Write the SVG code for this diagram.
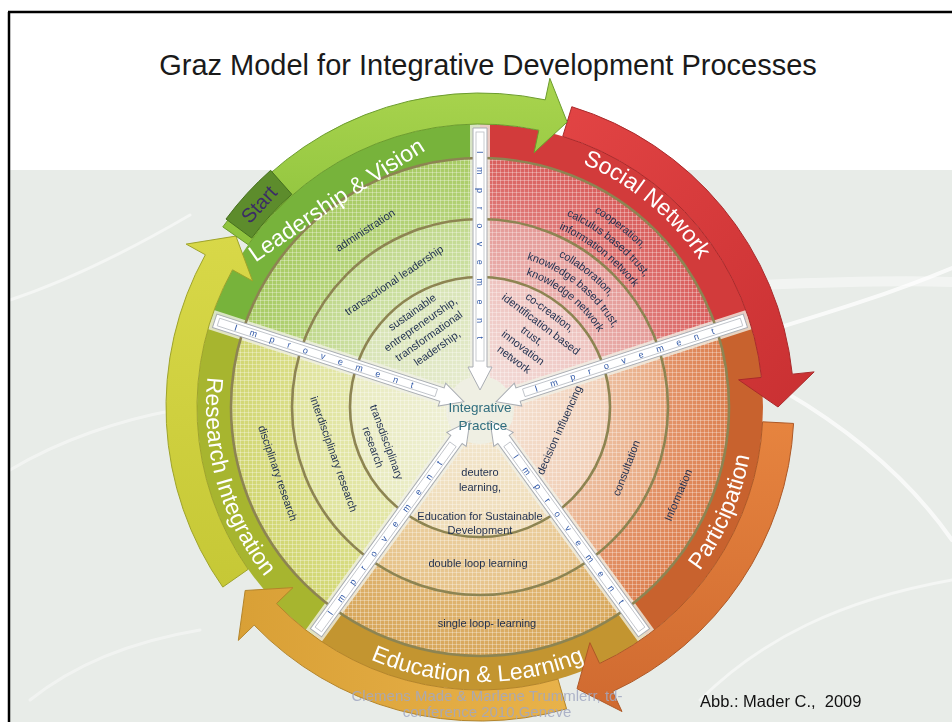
<svg xmlns="http://www.w3.org/2000/svg" xmlns:xlink="http://www.w3.org/1999/xlink" width="952" height="722" viewBox="0 0 952 722">
<style>
text{font-family:"Liberation Sans",Arial,sans-serif}
.in{fill:#1f2f4f;font-size:11px}
.lbl{fill:#ffffff;font-size:23px}
.imp{fill:#2f57a6;font-size:9px}
.circ{fill:none;stroke:#8d8452;stroke-width:2.6}
.arw{stroke-width:1;stroke-linejoin:round}
</style>
<defs>
<pattern id="grid" width="4" height="4" patternUnits="userSpaceOnUse"><path d="M0,0.5H4M0.5,0V4" stroke="#ffffff" stroke-opacity="0.3" stroke-width="1"/></pattern>
<radialGradient id="gG" gradientUnits="userSpaceOnUse" cx="480" cy="407" r="249"><stop offset="0" stop-color="#e9ecd4"/><stop offset=".52" stop-color="#d8e4b6"/><stop offset=".525" stop-color="#cde0a4"/><stop offset=".755" stop-color="#c0d88c"/><stop offset=".76" stop-color="#b4d278"/><stop offset="1" stop-color="#a8cb64"/></radialGradient>
<radialGradient id="gR" gradientUnits="userSpaceOnUse" cx="480" cy="407" r="249"><stop offset="0" stop-color="#f3e0dc"/><stop offset=".52" stop-color="#eec3bf"/><stop offset=".525" stop-color="#e9aeab"/><stop offset=".755" stop-color="#e49a97"/><stop offset=".76" stop-color="#df7a78"/><stop offset="1" stop-color="#d95e5c"/></radialGradient>
<radialGradient id="gO" gradientUnits="userSpaceOnUse" cx="480" cy="407" r="249"><stop offset="0" stop-color="#f4e4d6"/><stop offset=".52" stop-color="#f1cfb7"/><stop offset=".525" stop-color="#ecbc9c"/><stop offset=".755" stop-color="#e8a880"/><stop offset=".76" stop-color="#e39368"/><stop offset="1" stop-color="#dc8050"/></radialGradient>
<radialGradient id="gY" gradientUnits="userSpaceOnUse" cx="480" cy="407" r="249"><stop offset="0" stop-color="#f3e8d2"/><stop offset=".52" stop-color="#efdcb8"/><stop offset=".525" stop-color="#eacd9c"/><stop offset=".755" stop-color="#e6c288"/><stop offset=".76" stop-color="#dfb470"/><stop offset="1" stop-color="#d7a65a"/></radialGradient>
<radialGradient id="gL" gradientUnits="userSpaceOnUse" cx="480" cy="407" r="249"><stop offset="0" stop-color="#f0f0da"/><stop offset=".52" stop-color="#e9ebc0"/><stop offset=".525" stop-color="#e3e6a8"/><stop offset=".755" stop-color="#dfe39c"/><stop offset=".76" stop-color="#d9dd86"/><stop offset="1" stop-color="#d1d672"/></radialGradient>
<linearGradient id="aG" x1="0" y1="0" x2="0" y2="1"><stop offset="0" stop-color="#a9d44e"/><stop offset="1" stop-color="#8dc23c"/></linearGradient>
<linearGradient id="aR" x1="0" y1="0" x2="1" y2="1"><stop offset="0" stop-color="#e24444"/><stop offset="1" stop-color="#c93032"/></linearGradient>
<linearGradient id="aO" x1="0" y1="0" x2="0" y2="1"><stop offset="0" stop-color="#e6843f"/><stop offset="1" stop-color="#d06a30"/></linearGradient>
<linearGradient id="aY" x1="1" y1="0" x2="0" y2="0"><stop offset="0" stop-color="#e8b24a"/><stop offset="1" stop-color="#d9a036"/></linearGradient>
<linearGradient id="aL" x1="0" y1="1" x2="0" y2="0"><stop offset="0" stop-color="#c6c836"/><stop offset="1" stop-color="#d8d848"/></linearGradient>
<path id="cw264" d="M480,671 A264,264 0 0 1 480,143 A264,264 0 0 1 480,671"/>
<path id="ccw274" d="M480,133 A274,274 0 0 0 480,681 A274,274 0 0 0 480,133"/>
<path id="ccw275" d="M480,132 A275,275 0 0 0 480,682 A275,275 0 0 0 480,132"/>
<path id="cw226" d="M480,633 A226,226 0 0 1 480,181 A226,226 0 0 1 480,633"/>
<path id="cw210" d="M480,617 A210,210 0 0 1 480,197 A210,210 0 0 1 480,617"/>
<path id="cw195" d="M480,602 A195,195 0 0 1 480,212 A195,195 0 0 1 480,602"/>
<path id="cw170" d="M480,577 A170,170 0 0 1 480,237 A170,170 0 0 1 480,577"/>
<path id="cw155" d="M480,562 A155,155 0 0 1 480,252 A155,155 0 0 1 480,562"/>
<path id="cw140" d="M480,547 A140,140 0 0 1 480,267 A140,140 0 0 1 480,547"/>
<path id="lvPath" d="M252,265 Q338,205 430,148"/>
<g id="impShape">
<path d="M279,-7H40V-12L17,0L40,12V7H279Z" fill="#ffffff" stroke="#a9adb3" stroke-width="1"/>
<rect x="46" y="-4" width="229" height="8" fill="none" stroke="#b9bdc4" stroke-width="0.8"/>
</g>
</defs>

<!-- background -->
<rect x="0" y="0" width="952" height="722" fill="#ffffff"/>
<rect x="10" y="170" width="942" height="552" fill="#e8ece8"/>
<g fill="none" stroke="#ffffff" stroke-linecap="round">
<path d="M745,338 C810,318 880,298 952,268" stroke-width="4" opacity=".75"/>
<path d="M785,392 C850,430 910,480 952,540" stroke-width="4" opacity=".7"/>
<path d="M760,285 C830,282 900,280 952,282" stroke-width="10" opacity=".45"/>
<path d="M10,300 C70,280 130,250 190,215" stroke-width="3" opacity=".5"/>
<path d="M10,470 C60,440 120,420 175,410" stroke-width="3" opacity=".45"/>
<path d="M700,700 C760,640 840,600 952,580" stroke-width="3" opacity=".5"/>
<path d="M30,700 C80,660 140,640 200,630" stroke-width="3" opacity=".4"/>
</g>
<!-- frame -->
<path d="M8,12H952M9,12V722" stroke="#000000" stroke-width="2.5" fill="none"/>

<!-- title -->
<g id="title"><text x="488" y="75" text-anchor="middle" font-size="29" fill="#1a1a1a">Graz Model for Integrative Development Processes</text></g>

<!-- sectors -->
<g id="sector-leadership">
<path d="M480,407 L210.85,319.55 A283,283 0 0 1 480,124 Z" fill="#77b33b"/>
<path d="M480,407 L243.19,330.05 A249,249 0 0 1 480,158 Z" fill="url(#gG)"/>
</g>
<g id="sector-social">
<path d="M480,407 L480,124 A283,283 0 0 1 749.15,319.55 Z" fill="#d23b3b"/>
<path d="M480,407 L480,158 A249,249 0 0 1 716.81,330.05 Z" fill="url(#gR)"/>
</g>
<g id="sector-participation">
<path d="M480,407 L749.15,319.55 A283,283 0 0 1 646.34,635.95 Z" fill="#c8622e"/>
<path d="M480,407 L716.81,330.05 A249,249 0 0 1 626.36,608.44 Z" fill="url(#gO)"/>
</g>
<g id="sector-education">
<path d="M480,407 L646.34,635.95 A283,283 0 0 1 313.66,635.95 Z" fill="#c39530"/>
<path d="M480,407 L626.36,608.44 A249,249 0 0 1 333.64,608.44 Z" fill="url(#gY)"/>
</g>
<g id="sector-research">
<path d="M480,407 L313.66,635.95 A283,283 0 0 1 210.85,319.55 Z" fill="#a7b52f"/>
<path d="M480,407 L333.64,608.44 A249,249 0 0 1 243.19,330.05 Z" fill="url(#gL)"/>
</g>
<circle cx="480" cy="407" r="249" fill="url(#grid)"/>

<!-- pale gaps -->
<g fill="#f1f1e6" opacity=".8">
<rect x="0" y="-10" width="283" height="20" transform="translate(480,407) rotate(-90)"/>
<rect x="0" y="-10" width="283" height="20" transform="translate(480,407) rotate(-18)"/>
<rect x="0" y="-10" width="283" height="20" transform="translate(480,407) rotate(54)"/>
<rect x="0" y="-10" width="283" height="20" transform="translate(480,407) rotate(126)"/>
<rect x="0" y="-10" width="283" height="20" transform="translate(480,407) rotate(198)"/>
</g>
<circle cx="480" cy="410" r="34" fill="#efefe3"/>

<!-- rings -->
<g id="rings">
<circle class="circ" cx="480" cy="407" r="130"/>
<circle class="circ" cx="480" cy="407" r="188"/>
<circle class="circ" cx="480" cy="407" r="249"/>
</g>

<!-- improvement arrows -->
<g id="connectors">
<g transform="translate(480,407) rotate(-90)"><use href="#impShape"/><text class="imp" transform="rotate(180)" x="-256" y="3" textLength="188" lengthAdjust="spacing">Improvement</text></g>
<g transform="translate(480,407) rotate(-18)"><use href="#impShape"/><text class="imp" x="58" y="3" textLength="188" lengthAdjust="spacing">Improvement</text></g>
<g transform="translate(480,407) rotate(54)"><use href="#impShape"/><text class="imp" x="60" y="3" textLength="182" lengthAdjust="spacing">Improvement</text></g>
<g transform="translate(480,407) rotate(126)"><use href="#impShape"/><text class="imp" transform="rotate(180)" x="-256" y="3" textLength="188" lengthAdjust="spacing">Improvement</text></g>
<g transform="translate(480,407) rotate(198)"><use href="#impShape"/><text class="imp" transform="rotate(180)" x="-258" y="3" textLength="188" lengthAdjust="spacing">Improvement</text></g>
</g>

<!-- cycle arrows -->
<g id="cycle-arrows">
<path class="arw" fill="url(#aR)" stroke="#a92a2b" d="M571.80,106.72 A314,314 0 0 1 792.28,374.18 L814.16,371.88 L778,407 L738.58,379.82 L761.45,377.42 A283,283 0 0 0 562.74,136.37 Z"/>
<path class="arw" fill="url(#aO)" stroke="#ad5826" d="M793.57,423.43 A314,314 0 0 1 612.70,691.58 L622.00,711.52 L577.02,688.76 L589.88,642.64 L599.60,663.49 A283,283 0 0 0 762.61,421.81 Z"/>
<path class="arw" fill="url(#aY)" stroke="#b3842a" d="M566.55,708.84 A314,314 0 0 1 254.13,625.12 L238.30,640.41 L245.17,590.47 L292.97,587.61 L276.43,603.59 A283,283 0 0 0 558.01,679.04 Z"/>
<path class="arw" fill="url(#aL)" stroke="#9ea32a" d="M222.79,587.10 A314,314 0 0 1 205.37,254.77 L186.13,244.10 L235.89,236.07 L252.60,280.95 L232.48,269.80 A283,283 0 0 0 248.18,569.32 Z"/>
<path class="arw" fill="url(#aG)" stroke="#6c9c2e" d="M222.79,226.90 A314,314 0 0 1 545.28,99.86 L549.86,78.34 L567.13,122.02 L534.06,152.68 L538.84,130.18 A283,283 0 0 0 248.18,244.68 Z"/>
<g id="start">
<path d="M225.98,219.04 A316,316 0 0 1 270.61,170.33 L291.82,194.30 A284,284 0 0 0 251.70,238.07 Z" fill="#5d8c2c" stroke="#46701f" stroke-width="1"/>
<text transform="translate(258.8,204.3) rotate(-47.5)" y="7" text-anchor="middle" font-size="20" fill="#3b2b66">Start</text>
</g>
</g>

<!-- band labels -->
<g id="labels">
<text class="lbl" font-size="24.5"><textPath href="#lvPath" startOffset="50%" text-anchor="middle">Leadership &amp; Vision</textPath></text>
<g transform="rotate(39.5,480,407)"><text class="lbl"><textPath href="#cw264" startOffset="50%" text-anchor="middle">Social Network</textPath></text></g>
<g transform="rotate(-66.5,480,407)"><text class="lbl"><textPath href="#ccw274" startOffset="50%" text-anchor="middle">Participation</textPath></text></g>
<g transform="rotate(0.5,480,407)"><text class="lbl" font-size="22"><textPath href="#ccw275" startOffset="50%" text-anchor="middle">Education &amp; Learning</textPath></text></g>
<g transform="rotate(74,480,407)"><text class="lbl" font-size="22.5"><textPath href="#ccw274" startOffset="50%" text-anchor="middle">Research Integration</textPath></text></g>
</g>

<!-- inner texts: leadership -->
<g id="node-leadership-texts">
<text class="in" transform="translate(365,230) rotate(-33)" y="4" text-anchor="middle">administration</text>
<text class="in" transform="translate(394,280) rotate(-34)" y="4" text-anchor="middle">transactional leadership</text>
<text class="in" transform="translate(412,312) rotate(-35)" text-anchor="middle"><tspan x="0" y="4">sustainable</tspan><tspan x="0" dy="14.5">entrepreneurship,</tspan><tspan x="0" dy="14.5">transformational</tspan><tspan x="0" dy="14.5">leadership,</tspan></text>
</g>
<g id="node-social-texts">
<g transform="rotate(38,480,407)">
<text class="in"><textPath href="#cw226" startOffset="50%" text-anchor="middle">cooperation,</textPath></text>
<text class="in"><textPath href="#cw210" startOffset="50%" text-anchor="middle">calculus based  trust,</textPath></text>
<text class="in"><textPath href="#cw195" startOffset="50%" text-anchor="middle">information network</textPath></text>
</g>
<g transform="rotate(38.5,480,407)">
<text class="in"><textPath href="#cw170" startOffset="50%" text-anchor="middle">collaboration,</textPath></text>
<text class="in"><textPath href="#cw155" startOffset="50%" text-anchor="middle">knowledge based trust,</textPath></text>
<text class="in"><textPath href="#cw140" startOffset="50%" text-anchor="middle">knowledge network</textPath></text>
</g>
<text class="in" transform="translate(550,312) rotate(37)" text-anchor="middle"><tspan x="0" y="4">co-creation,</tspan><tspan x="0" dy="14.8">identification based</tspan><tspan x="0" dy="14.8">trust,</tspan><tspan x="0" dy="14.8">innovation</tspan><tspan x="0" dy="14.8">network</tspan></text>
</g>
<g id="node-participation-texts">
<text class="in" transform="translate(559,430) rotate(-66)" y="4" text-anchor="middle">decision influencing</text>
<text class="in" transform="translate(626,468) rotate(-69)" y="4" text-anchor="middle">consultation</text>
<text class="in" transform="translate(678,495) rotate(-67)" y="4" text-anchor="middle" font-size="10.5">Information</text>
</g>
<g id="node-education-texts">
<text class="in" text-anchor="middle"><tspan x="480" y="476">deutero</tspan><tspan x="480" y="491">learning,</tspan></text>
<text class="in" text-anchor="middle"><tspan x="480" y="520">Education for Sustainable</tspan><tspan x="480" y="534">Development</tspan></text>
<text class="in" x="478" y="567" text-anchor="middle">double loop learning</text>
<text class="in" x="487" y="627" text-anchor="middle">single loop- learning</text>
</g>
<g id="node-research-texts">
<text class="in" transform="translate(387,442) rotate(70)" text-anchor="middle"><tspan x="0" y="4">transdisciplinary</tspan><tspan x="0" dy="14.5">research</tspan></text>
<text class="in" transform="translate(334,454) rotate(70.5)" y="4" text-anchor="middle">interdisciplinary research</text>
<text class="in" transform="translate(278,473) rotate(71)" y="4" text-anchor="middle">disciplinary research</text>
</g>
<g id="node-center">
<text text-anchor="middle" font-size="13.5" fill="#2f6d7e"><tspan x="480" y="412">Integrative</tspan><tspan x="483" y="430">Practice</tspan></text>
</g>

<!-- footer -->
<g id="footer">
<text x="700" y="707" font-size="16.5" fill="#111111" xml:space="preserve">Abb.: Mader C.,  2009</text>
<text text-anchor="middle" font-size="15" fill="#a2a8c2" opacity=".85"><tspan x="487" y="701">Clemens Made &amp; Marlene Trummlerr, td-</tspan><tspan x="487" y="717">conference 2010,Geneve</tspan></text>
</g>
</svg>
